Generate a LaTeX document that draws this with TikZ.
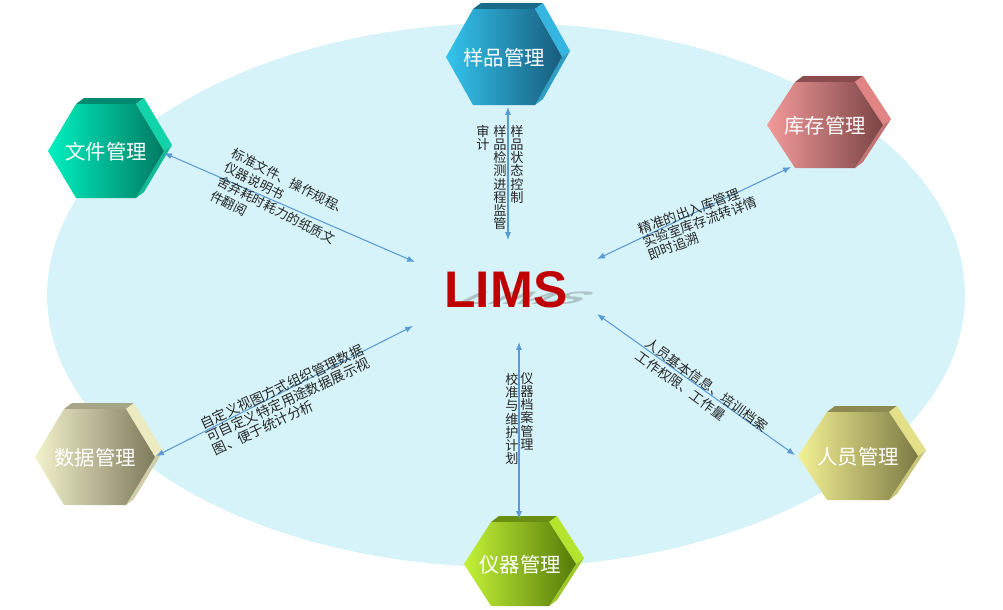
\documentclass[tikz,border=0pt]{standalone}
\usepackage{fontspec}
\usetikzlibrary{arrows.meta}
\newfontfamily\cjk{Noto Sans CJK SC}
\newfontfamily\limsfont{Liberation Sans}
\definecolor{ellfill}{HTML}{D5F3F8}
\definecolor{linecol}{HTML}{5B9BD5}
\definecolor{anncol}{HTML}{262626}
\definecolor{limsred}{HTML}{C00000}
% hexagon colours
\definecolor{yplight}{HTML}{33C4EE}\definecolor{ypdark}{HTML}{185C7C}\definecolor{yptop}{HTML}{1B6A8A}\definecolor{ypside}{HTML}{35B5E0}
\definecolor{wjlight}{HTML}{00F0C0}\definecolor{wjdark}{HTML}{007A62}\definecolor{wjtop}{HTML}{008A70}\definecolor{wjside}{HTML}{12D4AA}
\definecolor{kclight}{HTML}{F49A9A}\definecolor{kcdark}{HTML}{7A4444}\definecolor{kctop}{HTML}{8A4C4C}\definecolor{kcside}{HTML}{E08484}
\definecolor{rylight}{HTML}{F4F294}\definecolor{rydark}{HTML}{7C7A44}\definecolor{rytop}{HTML}{8C8A50}\definecolor{ryside}{HTML}{E4E08A}
\definecolor{yqlight}{HTML}{C4F238}\definecolor{yqdark}{HTML}{557A08}\definecolor{yqtop}{HTML}{6A8E10}\definecolor{yqside}{HTML}{B4E42E}
\definecolor{sjlight}{HTML}{F2F2CC}\definecolor{sjdark}{HTML}{7E7A5C}\definecolor{sjtop}{HTML}{A8A488}\definecolor{sjside}{HTML}{ECEAC0}
\newcommand\afont[2]{\cjk\fontsize{#1}{#2}\selectfont}
\tikzset{
  hexlabel/.style={text=white, font={\cjk\fontsize{11.6}{13}\selectfont}, inner sep=0pt},
  conn/.style={draw=linecol, line width=0.6pt, {Latex[length=4.5pt,width=3.5pt]}-{Latex[length=4.5pt,width=3.5pt]}},
  ann/.style={text=anncol, align=left, inner sep=0pt},
  vcol/.style={text=anncol, align=center, inner sep=0pt, anchor=north, font={\afont{7.5}{7.5}}}
}
% name, cx, cy, half width, half height, top half width, text
\newcommand\hexbox[7]{%
\begin{scope}[shift={(#2,#3)}]
\fill[#1top] (-#6,-#5) -- (#6,-#5) -- (#6+8,-#5-6) -- (-#6+8,-#5-6) -- cycle;
\fill[#1side] (#6,-#5) -- (#4,0) -- (#4+8,-6) -- (#6+8,-#5-6) -- cycle;
\fill[#1side!88!black] (#4,0) -- (#6,#5) -- (#6+8,#5-6) -- (#4+8,-6) -- cycle;
\shade[left color=#1light, right color=#1dark] (-#4,0) -- (-#6,-#5) -- (#6,-#5) -- (#4,0) -- (#6,#5) -- (-#6,#5) -- cycle;
\node[hexlabel] (#1) at (0,1) {#7};
\end{scope}}
\begin{document}
\begin{tikzpicture}[x=0.02cm, y=-0.02cm]
\useasboundingbox (0,0) rectangle (1003,609);
\fill[white] (0,0) rectangle (1003,609);
\fill[ellfill] (506,295) ellipse [x radius=9.18cm, y radius=5.44cm];

% hexagons
\hexbox{yp}{504}{57}{58}{48}{31}{样品管理}
\hexbox{wj}{106}{151}{58}{47}{30}{文件管理}
\hexbox{kc}{825}{125}{58}{43}{30}{库存管理}
\hexbox{ry}{858}{456}{60}{44}{31}{人员管理}
\hexbox{yq}{520}{564}{56}{42}{29}{仪器管理}
\hexbox{sj}{95}{457}{60}{48}{31}{数据管理}

% LIMS with shadow
\begin{scope}[shift={(514,304)}, cm={1,0,0.7,0.35,(0,0)}, transform shape]
\node[anchor=base, inner sep=0pt, text=black!60, opacity=0.35, font={\limsfont\bfseries\fontsize{29.3}{30}\selectfont}] (limsshadow) at (0,0) {LIMS};
\end{scope}
\node[anchor=base, inner sep=0pt, text=limsred, font={\limsfont\bfseries\fontsize{29.3}{30}\selectfont}] (lims) at (506,307) {LIMS};

% connector end points
\coordinate (wj-e) at (164,153);  \coordinate (c-wj) at (415,262);
\coordinate (yp-s) at (508,107);  \coordinate (c-yp) at (508,240);
\coordinate (kc-e) at (791,167);  \coordinate (c-kc) at (597,259);
\coordinate (ry-e) at (795,455);  \coordinate (c-ry) at (597,314);
\coordinate (yq-n) at (519,519);  \coordinate (c-yq) at (519,342);
\coordinate (sj-e) at (156,456);  \coordinate (c-sj) at (413,326);

\draw[conn] (wj-e) -- (c-wj);
\draw[conn] (yp-s) -- (c-yp);
\draw[conn] (kc-e) -- (c-kc);
\draw[conn] (ry-e) -- (c-ry);
\draw[conn] (yq-n) -- (c-yq);
\draw[conn] (sj-e) -- (c-sj);

% annotations
\node[ann, rotate=-27, font={\afont{7.4}{9}}] (wjt) at (280,203) {标准文件、操作规程、\\仪器说明书\\舍弃耗时耗力的纸质文\\件翻阅};
\node[ann, rotate=20, font={\afont{7.6}{7.9}}] (kct) at (700,222) {精准的出入库管理\\实验室库存流转详情\\即时追溯};
\node[ann, rotate=-36, font={\afont{7.6}{9}}] (ryt) at (702,391) {人员基本信息、培训档案\\工作权限、工作量};
\node[ann, rotate=25, font={\afont{7.8}{8.3}}] (sjt) at (288,400) {自定义视图方式组织管理数据\\可自定义特定用途数据展示视\\图、便于统计分析};

\node[vcol] (ypt1) at (517,125) {样\\品\\状\\态\\控\\制};
\node[vcol] (ypt2) at (500,125) {样\\品\\检\\测\\进\\程\\监\\管};
\node[vcol] (ypt3) at (483,125) {审\\计};
\node[vcol] (yqt1) at (527,372) {仪\\器\\档\\案\\管\\理};
\node[vcol] (yqt2) at (512,373) {校\\准\\与\\维\\护\\计\\划};
\end{tikzpicture}
\end{document}
